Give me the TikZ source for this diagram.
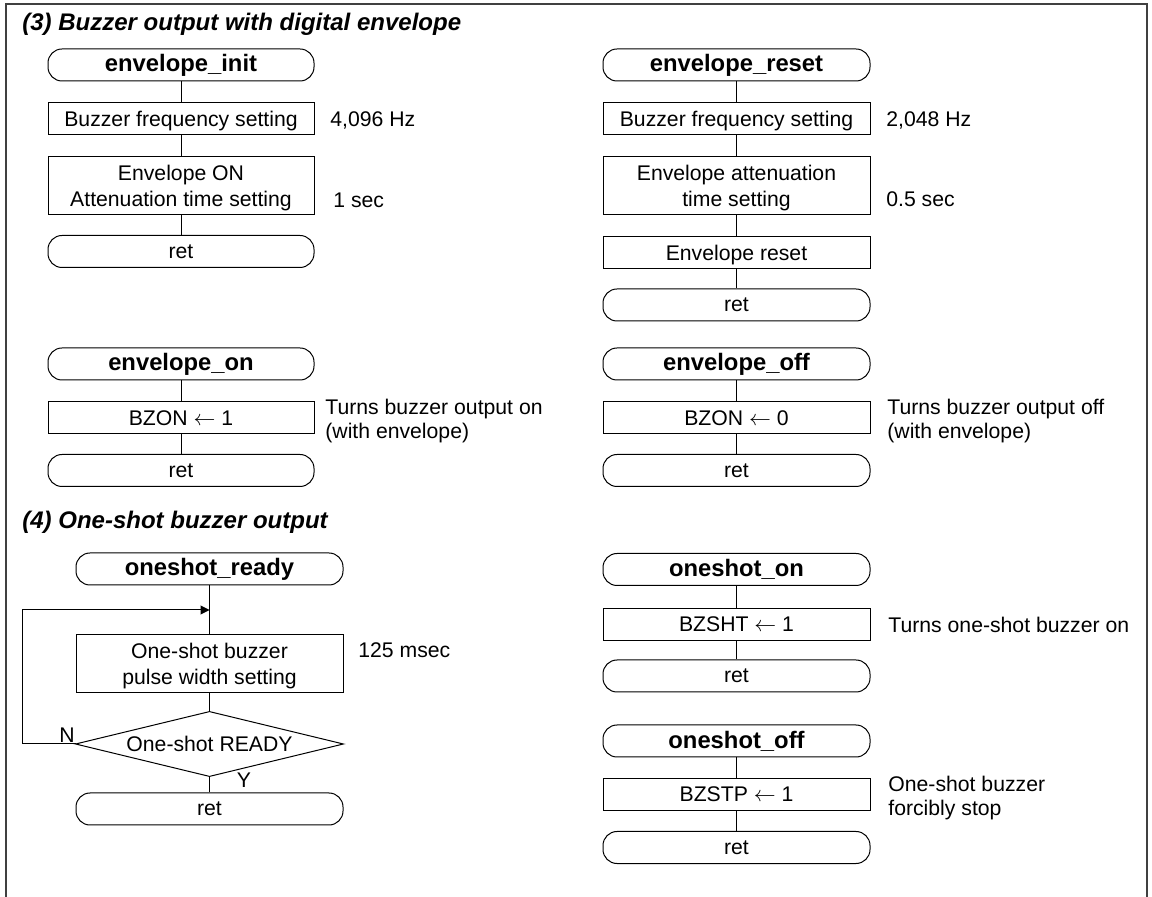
\documentclass[tikz,border=0pt]{standalone}
\usepackage{fontspec}
\setmainfont{Liberation Sans}
\usetikzlibrary{arrows.meta}
\newcommand\mybody{\fontsize{10.6}{12.85}\selectfont}
\newcommand\mynote{\fontsize{10.6}{12}\selectfont}
\newcommand\myname{\fontsize{11.9}{14}\selectfont\bfseries}
\newcommand\mytitle{\fontsize{12}{14}\selectfont\bfseries\itshape}
\begin{document}
\begin{tikzpicture}[x=0.5pt,y=-0.5pt,
  term/.style={draw, line width=0.5pt, rounded corners=7pt, minimum height=16pt, inner sep=0pt, font=\mybody},
  lterm/.style={term, minimum width=133pt},
  rterm/.style={term, minimum width=133.5pt},
  proc/.style={draw, line width=0.5pt, minimum height=16pt, inner sep=0pt, align=center, font=\mybody, text depth=0pt},
  lproc/.style={proc, minimum width=133pt},
  rproc/.style={proc, minimum width=133.5pt},
  tall/.style={minimum height=29pt},
  note/.style={anchor=west, align=left, inner sep=0pt, font=\mynote, text depth=0pt},
  ttl/.style={anchor=base west, inner sep=0pt, font=\mytitle},
  flow/.style={line width=0.5pt},
  yn/.style={inner sep=0pt, font=\mybody},
  arr/.style={line width=0.5pt, -{Triangle[length=4.5pt,width=4.5pt]}}
]
\useasboundingbox (0,0) rectangle (1152,897);
% frame
\draw[line width=0.8pt, black!75] (6,897) -- (6,4) -- (1147,4) -- (1147,897);

% titles
\node[ttl] (t3) at (22,31) {(3) Buzzer output with digital envelope};
\node[ttl] (t4) at (22,529) {(4) One-shot buzzer output};

% envelope_init
\node[lterm] (ei) at (181,65) {\myname envelope\_init};
\node[lproc] (ei1) at (181,119) {Buzzer frequency setting};
\node[lproc, tall] (ei2) at (181,186) {Envelope ON\\Attenuation time setting};
\node[lterm] (eir) at (181,251.5) {ret};
\draw[flow] (ei) -- (ei1); \draw[flow] (ei1) -- (ei2); \draw[flow] (ei2) -- (eir);
\node[note] (n1) at (330,119) {4,096 Hz};
\node[note] (n2) at (333,200) {1 sec};

% envelope_reset
\node[rterm] (er) at (736.5,65) {\myname envelope\_reset};
\node[rproc] (er1) at (736.5,119) {Buzzer frequency setting};
\node[rproc, tall] (er2) at (736.5,186) {Envelope attenuation\\time setting};
\node[rproc] (er3) at (736.5,252.5) {Envelope reset};
\node[rterm] (err) at (736.5,305) {ret};
\draw[flow] (er) -- (er1); \draw[flow] (er1) -- (er2); \draw[flow] (er2) -- (er3); \draw[flow] (er3) -- (err);
\node[note] (n3) at (886,119) {2,048 Hz};
\node[note] (n4) at (886,199) {0.5 sec};

% envelope_on
\node[lterm] (eon) at (181,364) {\myname envelope\_on};
\node[lproc] (eon1) at (181,418) {BZON $\leftarrow$ 1};
\node[lterm] (eonr) at (181,470.5) {ret};
\draw[flow] (eon) -- (eon1); \draw[flow] (eon1) -- (eonr);
\node[note] (n5) at (325,419) {Turns buzzer output on\\(with envelope)};

% envelope_off
\node[rterm] (eof) at (736.5,364) {\myname envelope\_off};
\node[rproc] (eof1) at (736.5,418) {BZON $\leftarrow$ 0};
\node[rterm] (eofr) at (736.5,470.5) {ret};
\draw[flow] (eof) -- (eof1); \draw[flow] (eof1) -- (eofr);
\node[note] (n6) at (887,419) {Turns buzzer output off\\(with envelope)};

% oneshot_ready
\node[rterm] (osr) at (209.5,569) {\myname oneshot\_ready};
\node[rproc, tall] (osr1) at (209.5,664) {One-shot buzzer\\pulse width setting};
\node[minimum width=133.5pt, minimum height=32pt, inner sep=0pt, font=\mybody, text depth=0pt] (osrd) at (209.5,744) {One-shot READY};
\draw[flow] (osrd.west) -- (osrd.north) -- (osrd.east) -- (osrd.south) -- cycle;
\node[rterm] (osrr) at (209.5,809) {ret};
\coordinate (join) at (209.5,610);
\coordinate (loopc) at (22,744);
\draw[flow] (osr) -- (osr1); \draw[flow] (osr1) -- (osrd.north); \draw[flow] (osrd.south) -- (osrr);
\draw[arr] (osrd.west) -- (loopc) |- (join);
\node[yn] (lN) at (67,735) {N};
\node[yn] (lY) at (244,780) {Y};
\node[note] (n7) at (358,650) {125 msec};

% oneshot_on
\node[rterm] (oson) at (736.5,569.5) {\myname oneshot\_on};
\node[rproc] (oson1) at (736.5,624.5) {BZSHT $\leftarrow$ 1};
\node[rterm] (osonr) at (736.5,676) {ret};
\draw[flow] (oson) -- (oson1); \draw[flow] (oson1) -- (osonr);
\node[note] (n8) at (888,624.5) {Turns one-shot buzzer on};

% oneshot_off
\node[rterm] (osof) at (736.5,741) {\myname oneshot\_off};
\node[rproc] (osof1) at (736.5,794.5) {BZSTP $\leftarrow$ 1};
\node[rterm] (osofr) at (736.5,847.5) {ret};
\draw[flow] (osof) -- (osof1); \draw[flow] (osof1) -- (osofr);
\node[note] (n9) at (888,796) {One-shot buzzer\\forcibly stop};
\end{tikzpicture}
\end{document}
